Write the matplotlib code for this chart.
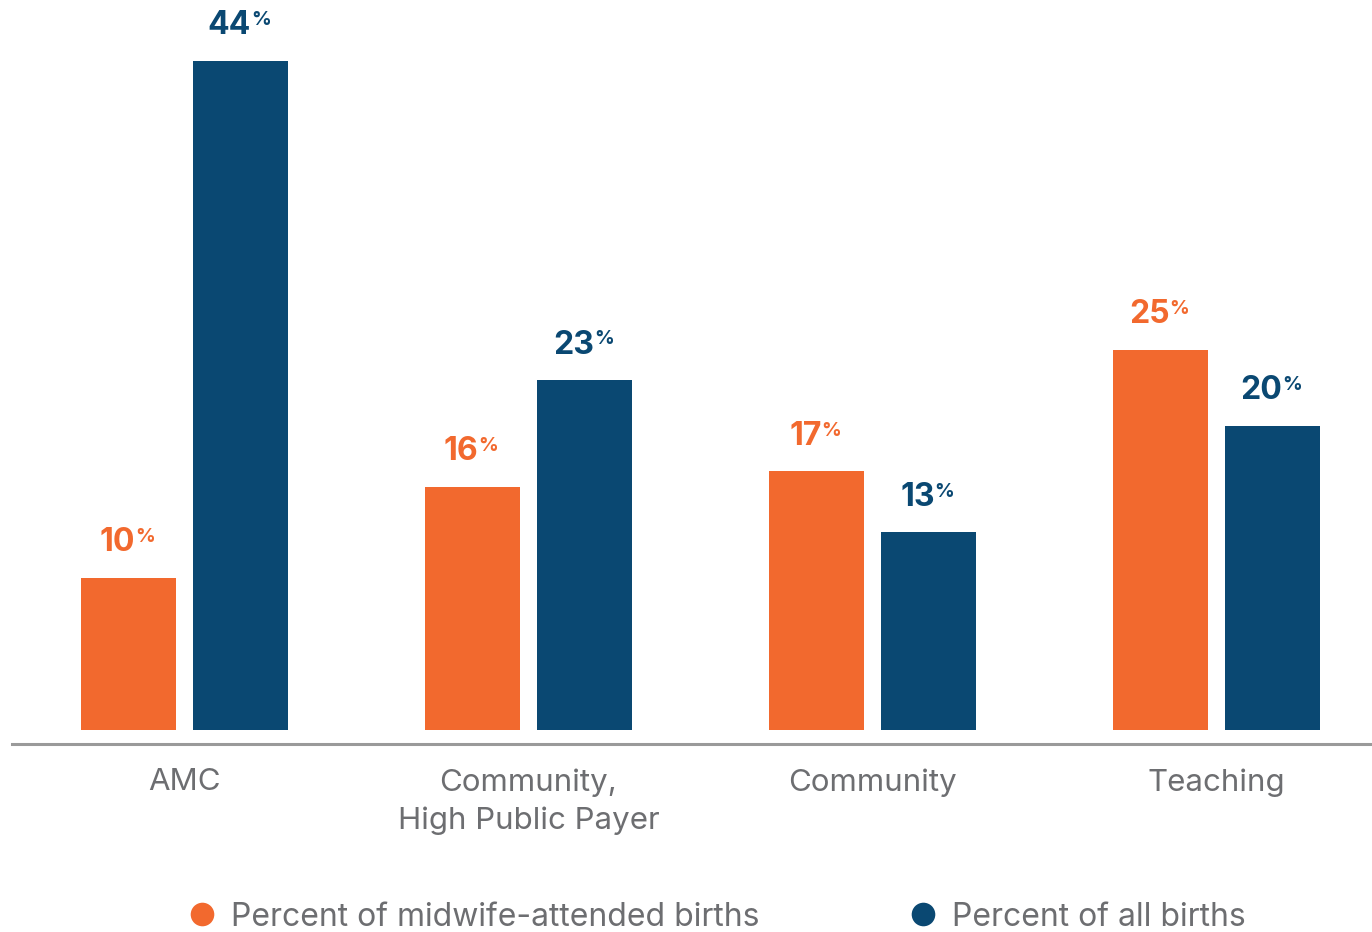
import matplotlib
matplotlib.use("Agg")
import numpy as np
from matplotlib import pyplot as plt
from matplotlib.lines import Line2D

plt.rcParams['font.family'] = ['Inter', 'DejaVu Sans']

categories = ['AMC', 'Community,\nHigh Public Payer', 'Community', 'Teaching']
midwife_pct = [10, 16, 17, 25]
all_pct = [44, 23, 13, 20]
series_names = ['Percent of midwife-attended births', 'Percent of all births']

ORANGE = '#F2692E'
BLUE = '#0A4872'
GRAY = '#6D6E71'

fig = plt.figure(figsize=(13.72, 9.32), dpi=100)
ax = fig.add_axes([12 / 1372, 1 - 744 / 932, 1 - 12 / 1372, 744 / 932])

x = np.arange(len(categories))
width = 0.276
offset = 0.163

bars_mw = ax.bar(x - offset, midwife_pct, width, color=ORANGE)
bars_all = ax.bar(x + offset, all_pct, width, color=BLUE)

ax.set_xlim(-0.501, 3.452)
ax.set_ylim(-0.92, 48.0)

for s in ['top', 'right', 'left']:
    ax.spines[s].set_visible(False)
ax.spines['bottom'].set_position(('data', -0.92))
ax.spines['bottom'].set_color('#9A9A9A')
ax.spines['bottom'].set_linewidth(2.2)
ax.set_yticks([])
ax.set_xticks(x)
ax.set_xticklabels(categories, fontsize=22.5, color=GRAY, linespacing=1.45)
ax.tick_params(axis='x', length=0, pad=17.5)


def label_bars(bars, values, color):
    for b, v in zip(bars, values):
        cx = b.get_x() + b.get_width() / 2
        t = ax.annotate(str(v), xy=(cx, v), xytext=(-8, 14),
                        textcoords='offset points', ha='center', va='bottom',
                        fontsize=23, fontweight='bold', color=color)
        ax.annotate('%', xy=(1, 1), xycoords=t, xytext=(0, -0.5),
                    textcoords='offset points', ha='left', va='top',
                    fontsize=14, fontweight='bold', color=color)


label_bars(bars_mw, midwife_pct, ORANGE)
label_bars(bars_all, all_pct, BLUE)

handles = [Line2D([], [], marker='o', linestyle='none', markersize=17,
                  markerfacecolor=c, markeredgecolor='none')
           for c in (ORANGE, BLUE)]
fig.legend(handles, series_names, loc='center left',
           bbox_to_anchor=(186 / 1372, 1 - 917 / 932), ncol=2, frameon=False,
           fontsize=23, labelcolor=GRAY, handletextpad=0.42,
           columnspacing=4.6, handlelength=1.0, borderpad=0, borderaxespad=0)

fig.savefig('out.png', dpi=100)
